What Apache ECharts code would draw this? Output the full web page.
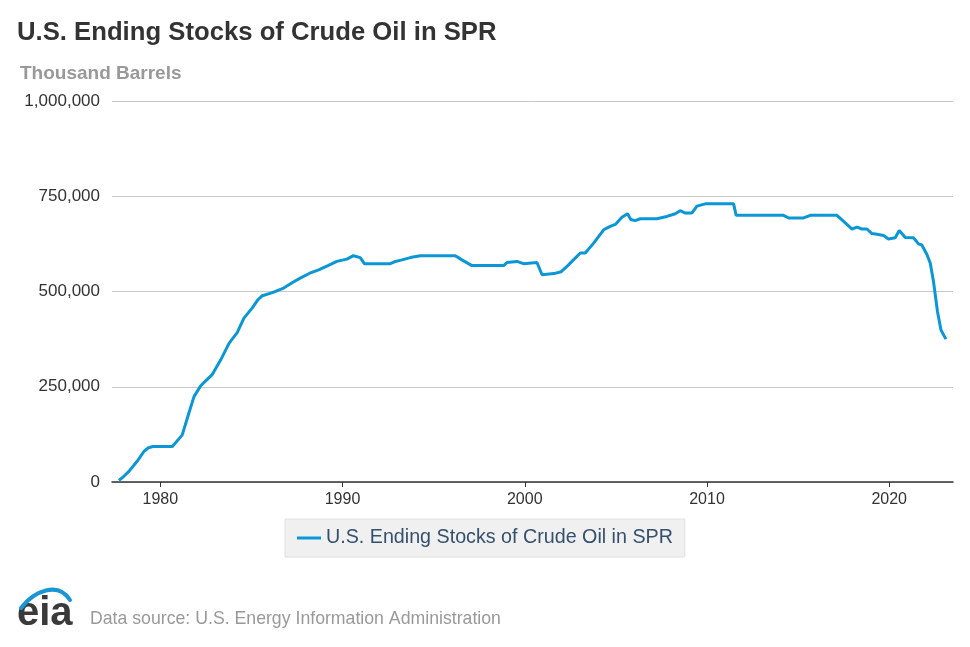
<!DOCTYPE html>
<html>
<head>
<meta charset="utf-8">
<script src="https://cdn.jsdelivr.net/npm/echarts@6/dist/echarts.min.js"></script>
<style>
html,body{margin:0;padding:0;background:#fff;}
#chart{width:970px;height:647px;}
</style>
</head>
<body>
<div id="chart"></div>
<script>
// Decimal years and SPR ending stocks (thousand barrels)
const years = [
  1977.73, 1978.0, 1978.28, 1978.74, 1979.1, 1979.35, 1979.6, 1980.66, 1981.2, 1981.57,
  1981.85, 1982.21, 1982.5, 1982.85, 1983.31, 1983.77, 1984.22, 1984.59, 1985.05, 1985.35,
  1985.6, 1986.15, 1986.77, 1987.3, 1987.68, 1988.2, 1988.69, 1989.2, 1989.69, 1990.24,
  1990.6, 1990.97, 1991.2, 1992.62, 1992.85, 1993.26, 1993.72, 1994.27, 1996.19, 1996.55,
  1997.1, 1998.84, 1999.02, 1999.57, 1999.93, 2000.67, 2000.95, 2001.6, 2002.0, 2002.3,
  2002.59, 2003.05, 2003.32, 2003.78, 2004.33, 2004.69, 2004.97, 2005.33, 2005.64, 2005.82,
  2006.06, 2006.34, 2007.25, 2007.8, 2008.26, 2008.53, 2008.81, 2009.17, 2009.45, 2009.9,
  2011.46, 2011.6, 2014.2, 2014.48, 2015.3, 2015.67, 2017.13, 2017.5, 2017.96, 2018.23,
  2018.5, 2018.78, 2019.05, 2019.33, 2019.69, 2019.96, 2020.33, 2020.55, 2020.88, 2021.33,
  2021.61, 2021.79, 2022.07, 2022.25, 2022.43, 2022.65, 2022.84, 2023.11
];
const stocks = [
  4000, 15000, 28000, 55000, 80000, 90000, 93000, 93000, 123000, 181000,
  224000, 252000, 266000, 282000, 320000, 364000, 392000, 430000, 457000, 478000,
  489000, 497000, 509000, 525000, 535000, 548000, 557000, 568000, 579000, 585000,
  594000, 589000, 573000, 573000, 578000, 583000, 589000, 594000, 594000, 583000,
  568000, 568000, 576000, 579000, 573000, 576000, 544000, 547000, 552000, 565000,
  579000, 601000, 601000, 627000, 662000, 671000, 676000, 695000, 704000, 689000,
  686000, 691000, 691000, 697000, 704000, 712000, 706000, 706000, 724000, 730000,
  730000, 700000, 700000, 693000, 693000, 700000, 700000, 684000, 664000, 669000,
  664000, 664000, 652000, 650000, 647000, 638000, 641000, 660000, 642000, 641000,
  625000, 622000, 597000, 575000, 526000, 447000, 399000, 375000
];
const xTickYears = [1980, 1990, 2000, 2010, 2020];

const seriesName = 'U.S. Ending Stocks of Crude Oil in SPR';
const FONT = '"Liberation Sans", Arial, Helvetica, sans-serif';

const chart = echarts.init(document.getElementById('chart'));
chart.setOption({
  animation: false,
  textStyle: { fontFamily: FONT },
  title: {
    text: 'U.S. Ending Stocks of Crude Oil in SPR',
    left: 17, top: 20, padding: 0,
    textStyle: { fontSize: 25.7, fontWeight: 'bold', color: '#333', fontFamily: FONT }
  },
  grid: { left: 112, right: 17, top: 101, bottom: 165, containLabel: false },
  legend: {
    data: [seriesName],
    left: 285, top: 519,
    backgroundColor: '#f0f0f0',
    borderColor: '#e0e0e0', borderWidth: 1,
    padding: [9, 12, 9, 12],
    icon: 'rect', itemWidth: 24, itemHeight: 3, itemGap: 10,
    textStyle: { fontSize: 19.7, color: '#34506e', fontFamily: FONT }
  },
  xAxis: {
    type: 'value',
    min: 1977.35, max: 2023.5,
    axisLine: { show: true, lineStyle: { color: '#333', width: 1.5 } },
    axisTick: { show: true, customValues: xTickYears, length: 5, lineStyle: { color: '#333' } },
    axisLabel: { customValues: xTickYears, fontSize: 16, color: '#333', margin: 10,
                 formatter: v => String(Math.round(v)) },
    splitLine: { show: false }
  },
  yAxis: {
    type: 'value',
    min: 0, max: 1000000, interval: 250000,
    axisLine: { show: false },
    axisTick: { show: false },
    axisLabel: { fontSize: 17, color: '#333', margin: 12,
                 formatter: v => v.toLocaleString('en-US') },
    splitLine: { lineStyle: { color: '#c8c8c8', width: 1 } }
  },
  series: [{
    name: seriesName,
    type: 'line',
    showSymbol: false,
    data: years.map((y, i) => [y, stocks[i]]),
    lineStyle: { color: '#0b96d6', width: 3 },
    itemStyle: { color: '#0b96d6' }
  }],
  graphic: [
    { type: 'text', left: 20, top: 64,
      style: { text: 'Thousand Barrels', fontSize: 19, fontWeight: 'bold', fill: '#999', fontFamily: FONT } },
    { type: 'text', left: 90, top: 610,
      style: { text: 'Data source: U.S. Energy Information Administration', fontSize: 17.7, fill: '#999', fontFamily: FONT } },
    { type: 'text', left: 17, top: 594,
      style: { text: 'eia', fontSize: 40, fontWeight: 'bold', fill: '#3a3a3a', fontFamily: FONT } },
    { type: 'bezierCurve',
      shape: { x1: 21, y1: 608, cpx1: 34, cpy1: 591, cpx2: 58, cpy2: 581, x2: 70, y2: 600 },
      style: { stroke: '#1a96d4', lineWidth: 4, fill: null, lineCap: 'round' } }
  ]
});
</script>
</body>
</html>
